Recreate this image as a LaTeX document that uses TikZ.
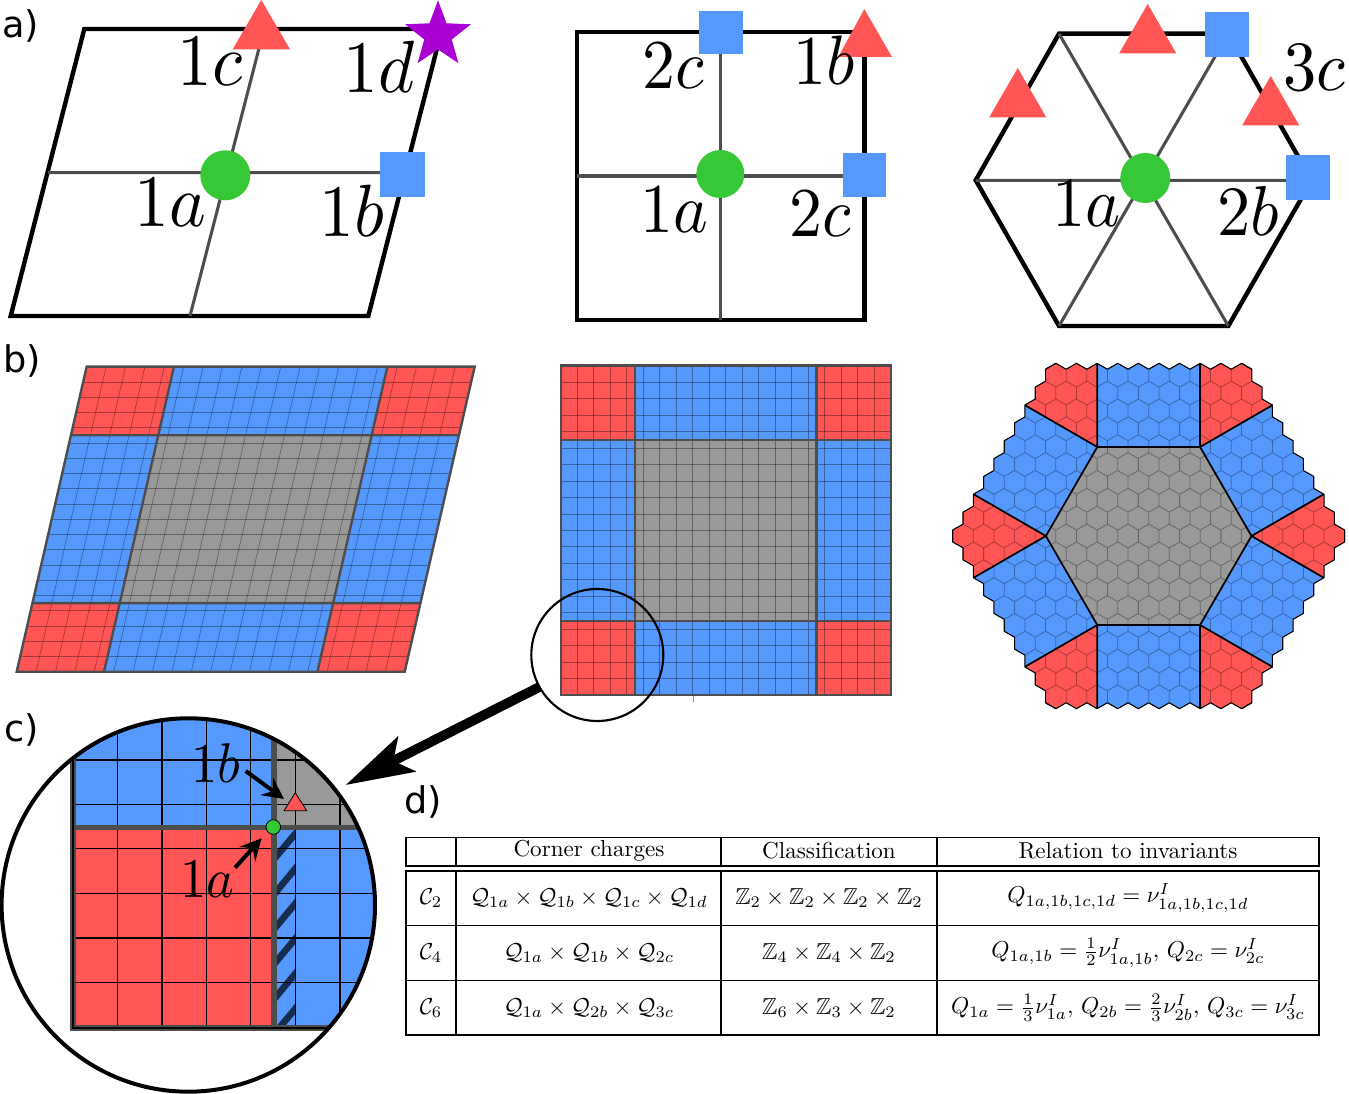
\documentclass[tikz,border=0pt]{standalone}
\usepackage[no-math]{fontspec}
\usepackage{amssymb}
\usetikzlibrary{arrows.meta,shapes.geometric}
\newfontfamily\panelfont{DejaVu Sans}
\definecolor{redc}{HTML}{FF5555}
\definecolor{bluec}{HTML}{5599FF}
\definecolor{grayc}{HTML}{999999}
\definecolor{greenc}{HTML}{37C837}
\definecolor{purplec}{HTML}{AA00D4}
\definecolor{darkc}{HTML}{4D4D4D}
\definecolor{navyc}{HTML}{162D50}
\tikzset{
  frame/.style={draw=black,line width=3.3pt,line join=miter},
  spoke/.style={draw=darkc,line width=2.3pt},
  panellabel/.style={anchor=base west,inner sep=0pt,font=\panelfont\fontsize{27.5}{32}\selectfont},
  biglabel/.style={anchor=base west,inner sep=0pt,scale=#1,xscale=.94},
  latgrid/.style={draw=black,draw opacity=.35,line width=.5pt},
  latdiv/.style={draw=darkc,line width=1.8pt},
  hexline/.style={draw=black,draw opacity=.33,line width=.6pt},
  hexedge/.style={draw=black,line width=.8pt,line join=round},
  hexcut/.style={draw=black,line width=1.3pt},
  zoomgrid/.style={draw=black,line width=1pt},
  zoomdiv/.style={draw=darkc,line width=4.6pt},
  tableline/.style={draw=black,line width=.8pt},
  cell/.style={scale=1.73,inner sep=0pt},
  smallarrow/.style={draw=black,line width=3pt,-{Stealth[length=16pt,width=16pt,inset=6pt]}},
  bigarrow/.style={draw=black,line width=7.3pt,-{Stealth[length=51pt,width=29pt,inset=11pt]}},
}
% unit-cell helpers for panel b
\newcommand\quadcell[4]{(#1,#2) -- (#3,#2) -- (#3,#4) -- (#1,#4) -- cycle}
\newcommand\latticepanel{%
  \fill[bluec] \quadcell{0}{0}{1}{1};
  \fill[redc] \quadcell{0}{0}{.225}{.225} \quadcell{.775}{0}{1}{.225}
              \quadcell{0}{.775}{.225}{1} \quadcell{.775}{.775}{1}{1};
  \fill[grayc] \quadcell{.225}{.225}{.775}{.775};
  \foreach \n in {1,...,19}{
    \draw[latgrid] ({\n/20},0) -- ({\n/20},1);
    \draw[latgrid] (0,{\n/20}) -- (1,{\n/20});
  }
  \draw[latdiv] (.225,0) -- (.225,1) (.775,0) -- (.775,1)
                (0,.225) -- (1,.225) (0,.775) -- (1,.775);
  \draw[latdiv] \quadcell{0}{0}{1}{1};
}
% hexagonal flake
\def\ha{20.63}\def\hs{11.91}\def\hh{17.865}
\newcommand\flakepath{\foreach \r [evaluate=\r as \nn using int(19-abs(\r))] in {-9,...,9}{
  \foreach \i in {1,...,\nn}{
    ({\ha*(\i-(\nn+1)/2)},{\r*\hh}) ++(0,-\hs) -- ++({.5*\ha},{.5*\hs}) -- ++(0,\hs) -- ++({-.5*\ha},{.5*\hs}) -- ++({-.5*\ha},{-.5*\hs}) -- ++(0,-\hs) -- cycle
  }}}
\begin{document}
\begin{tikzpicture}[x=.75pt,y=-.75pt]
\useasboundingbox (0,0) rectangle (1349,1094);

% ---------- panel a, parallelogram
\draw[frame] (84.3,29) -- (442,29) -- (368.3,316) -- (10.7,316) -- cycle;
\draw[spoke] (48,172.7) -- (405,172.7) (264,29) -- (190,316);
\fill[greenc] (225.3,175.3) circle (25);
\fill[bluec] (380,152) rectangle (425,197);
\fill[redc] (261.3,0) -- (290,49.3) -- (232.7,49.3) -- cycle;
\node[star,star points=5,star point ratio=2.4,fill=purplec,minimum size=52pt,inner sep=0pt] (stard) at (438,35) {};
\node[biglabel=5.55] (a1c) at (176,86) {$1c$};
\node[biglabel=5.55] (a1d) at (342,93) {$1d$};
\node[biglabel=5.55] (a1a) at (133.6,226.7) {$1a$};
\node[biglabel=5.55] (a1b) at (318.6,236.7) {$1b$};

% ---------- panel a, square
\draw[frame] (576.7,32.3) rectangle (864.3,320);
\draw[spoke] (577,176) -- (845,176) (720.7,54) -- (720.7,320);
\fill[greenc] (720.3,174) circle (24);
\fill[bluec] (699.3,11) rectangle (743,54.3);
\fill[bluec] (843,153.3) rectangle (886.3,196.7);
\fill[redc] (864.3,9) -- (892,57) -- (838.3,57) -- cycle;
\node[biglabel=5.25] (b2c) at (641,88.3) {$2c$};
\node[biglabel=5.25] (b1b) at (792,85) {$1b$};
\node[biglabel=5.25] (b1a) at (639,232.3) {$1a$};
\node[biglabel=5.25] (b2cc) at (788.5,236.7) {$2c$};

% ---------- panel a, hexagon
\draw[frame] (975.7,180.3) -- (1059,33.7) -- (1228.3,33.7) -- (1311.7,180.3) -- (1228.3,326) -- (1059,326) -- cycle;
\draw[spoke] (975.7,180.3) -- (1311.7,180.3) (1059,33.7) -- (1228.3,326) (1228.3,33.7) -- (1059,326);
\fill[greenc] (1145.3,178) circle (25);
\fill[bluec] (1205,12.3) rectangle (1249.3,56.7);
\fill[bluec] (1286,155.3) rectangle (1330.3,199.7);
\foreach \tx/\ty in {1147.7/4,1017.7/68,1270.7/76}
  \fill[redc] (\tx,\ty) -- ++(28.5,49.3) -- ++(-57,0) -- cycle;
\node[biglabel=5.3] (c3c) at (1282,90.7) {$3c$};
\node[biglabel=5.3] (c1a) at (1051,226.7) {$1a$};
\node[biglabel=5.3] (c2b) at (1216,236) {$2b$};

% ---------- panel b, parallelogram
\begin{scope}[shift={(16.7,671.7)},x={(291pt,0pt)},y={(52.5pt,228.8pt)}]
  \latticepanel
\end{scope}
% ---------- panel b, square
\begin{scope}[shift={(560.7,695)},x={(247.5pt,0pt)},y={(0pt,247pt)}]
  \latticepanel
\end{scope}
\draw[draw=bluec,line width=1.2pt] (693.3,696) -- (693.3,702);

% ---------- panel b, hexagon flake
\begin{scope}[shift={(1148.67,536)}]
  \begin{scope}
    \clip \flakepath;
    \fill[bluec] (-230,-200) rectangle (230,200);
    \foreach \t in {0,60,...,300}
      \fill[redc] (\t:102.8) -- +({\t-30}:230) -- +({\t+30}:230) -- cycle;
    \fill[grayc] (0:102.8) -- (60:102.8) -- (120:102.8) -- (180:102.8) -- (240:102.8) -- (300:102.8) -- cycle;
    \draw[hexline] \flakepath;
    \foreach \t in {0,60,...,300}
      \draw[hexcut] (\t:102.8) -- +({\t-30}:230) (\t:102.8) -- +({\t+30}:230);
    \draw[hexcut] (0:102.8) -- (60:102.8) -- (120:102.8) -- (180:102.8) -- (240:102.8) -- (300:102.8) -- cycle;
  \end{scope}
  \foreach \k in {0,...,5}{
    \foreach \i in {0,...,9}{
      \pgfmathsetmacro\th{60*\k}
      \pgfmathsetmacro\px{9*\ha*cos(\th)+\i*\ha*cos(\th+120)}
      \pgfmathsetmacro\py{9*\ha*sin(\th)+\i*\ha*sin(\th+120)}
      \draw[hexedge] (\px,\py) +({\th-30}:\hs) -- +({\th+30}:\hs) -- +({\th+90}:\hs);
    }
  }
\end{scope}

% ---------- magnifier and big arrow
\draw[black,line width=1.6pt] (597.3,655) circle (66);
\coordinate (arrowfrom) at (539.3,687);
\coordinate (arrowto) at (345.7,785);
\draw[bigarrow] (arrowfrom) -- (arrowto);

% ---------- panel c
\begin{scope}
  \clip (188.3,905) circle (186.7);
  \fill[bluec] (72.7,700) rectangle (273.5,827);
  \fill[redc] (72.7,827) rectangle (273.5,1027.7);
  \fill[grayc] (274,700) rectangle (390,827);
  \fill[bluec] (274,827) rectangle (390,1027.7);
  \begin{scope}
    \clip (272,830) rectangle (295.3,1025);
    \foreach \sy in {825,860,895,930,965,1000,1035}
      \draw[navyc,line width=5pt] (270,{\sy+4}) -- (300,{\sy-32});
  \end{scope}
  \fill[bluec] (295.3,830) rectangle (390,1027.7);
  \foreach \gx in {117.3,162,206.7,250.7,295.3,340}
    \draw[zoomgrid] (\gx,700) -- (\gx,1027.7);
  \foreach \gy in {760,804.3,848.7,893.3,938,982.7}
    \draw[zoomgrid] (72.7,\gy) -- (390,\gy);
  \draw[zoomdiv] (72.7,700) -- (72.7,1027.7) -- (390,1027.7);
  \draw[zoomdiv] (274,700) -- (274,1027.7);
  \draw[zoomdiv,line width=3.8pt] (72.7,827.3) -- (390,827.3);
  \draw[draw=black,line width=1.2pt] (72.7,700) -- (72.7,1027.7) -- (390,1027.7);
\end{scope}
\draw[black,line width=3pt] (188.3,905) circle (186.7);
\filldraw[fill=redc,draw=black,line width=.6pt] (295.3,792.7) -- (306.7,810.7) -- (284,810.7) -- cycle;
\filldraw[fill=greenc,draw=black,line width=.6pt] (273.3,827) circle (7.3);
\node[biglabel=4.2] (z1b) at (190.3,782.3) {$1b$};
\node[biglabel=4.2] (z1a) at (179.6,897.3) {$1a$};
\coordinate (tipb) at (284,799);
\coordinate (tipa) at (261.7,838.3);
\coordinate (tailb) at (245.7,771);
\coordinate (taila) at (235,867.7);
\draw[smallarrow] (tailb) -- (tipb);
\draw[smallarrow] (taila) -- (tipa);

% ---------- panel labels
\node[panellabel] (la) at (2.2,37.7) {a)};
\node[panellabel] (lb) at (3,373) {b)};
\node[panellabel] (lc) at (4.5,741.7) {c)};
\node[panellabel] (ld) at (404,813) {d)};

% ---------- panel d, table
\draw[tableline] (406,837.5) rectangle (1319,866);
\draw[tableline] (456,837.5) -- (456,866) (721,837.5) -- (721,866) (937,837.5) -- (937,866);
\draw[tableline] (406,871) rectangle (1319,1035);
\draw[tableline] (456,871) -- (456,1035) (721,871) -- (721,1035) (937,871) -- (937,1035);
\draw[tableline] (406,925.5) -- (1319,925.5) (406,980.5) -- (1319,980.5);
\node[cell] (h1) at (589,851) {Corner charges};
\node[cell] (h2) at (829,851) {Classification};
\node[cell] (h3) at (1128,851) {Relation to invariants};
\node[cell] (r1a) at (431,898) {$\mathcal{C}_2$};
\node[cell] (r2a) at (431,953) {$\mathcal{C}_4$};
\node[cell] (r3a) at (431,1008) {$\mathcal{C}_6$};
\node[cell] (r1b) at (589,898) {$\mathcal{Q}_{1a}\times\mathcal{Q}_{1b}\times\mathcal{Q}_{1c}\times\mathcal{Q}_{1d}$};
\node[cell] (r2b) at (589,953) {$\mathcal{Q}_{1a}\times\mathcal{Q}_{1b}\times\mathcal{Q}_{2c}$};
\node[cell] (r3b) at (589,1008) {$\mathcal{Q}_{1a}\times\mathcal{Q}_{2b}\times\mathcal{Q}_{3c}$};
\node[cell] (r1c) at (829,898) {$\mathbb{Z}_2\times\mathbb{Z}_2\times\mathbb{Z}_2\times\mathbb{Z}_2$};
\node[cell] (r2c) at (829,953) {$\mathbb{Z}_4\times\mathbb{Z}_4\times\mathbb{Z}_2$};
\node[cell] (r3c) at (829,1008) {$\mathbb{Z}_6\times\mathbb{Z}_3\times\mathbb{Z}_2$};
\node[cell] (r1d) at (1128,898) {$Q_{1a,1b,1c,1d}=\nu^{I}_{1a,1b,1c,1d}$};
\node[cell] (r2d) at (1128,953) {$Q_{1a,1b}=\frac{1}{2}\nu^{I}_{1a,1b},\,Q_{2c}=\nu^{I}_{2c}$};
\node[cell] (r3d) at (1128,1008) {$Q_{1a}=\frac{1}{3}\nu^{I}_{1a},\,Q_{2b}=\frac{2}{3}\nu^{I}_{2b},\,Q_{3c}=\nu^{I}_{3c}$};
\end{tikzpicture}
\end{document}
